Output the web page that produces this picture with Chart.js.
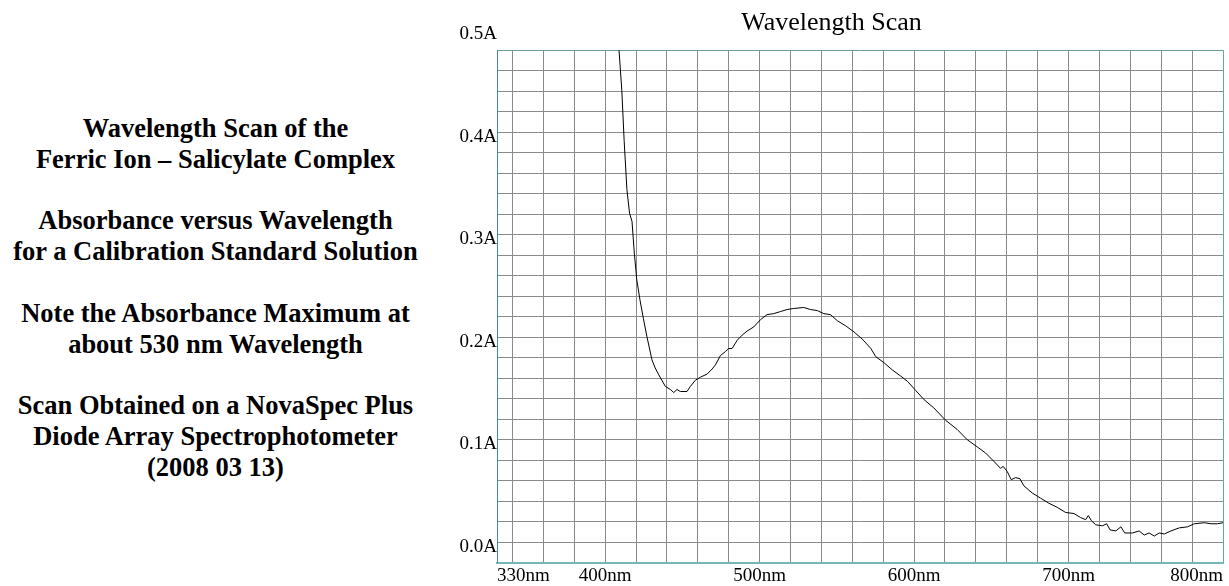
<!DOCTYPE html>
<html>
<head>
<meta charset="utf-8">
<script src="https://cdn.jsdelivr.net/npm/chart.js@4.4.1/dist/chart.umd.min.js"></script>
<style>
  html, body { margin: 0; padding: 0; background: #ffffff; }
  body { width: 1229px; height: 586px; position: relative; overflow: hidden; }
  #notes {
    position: absolute; left: 0; top: 113px; width: 431px;
    text-align: center; font-family: "Liberation Serif", "Times New Roman", serif;
    font-weight: bold; font-size: 26.5px; line-height: 30.8px; color: #000;
  }
  #wrap { position: absolute; left: 440px; top: 0; width: 789px; height: 586px; }
</style>
</head>
<body>
<div id="notes">
Wavelength Scan of the<br>Ferric Ion – Salicylate Complex<br><br>
Absorbance versus Wavelength<br>for a Calibration Standard Solution<br><br>
Note the Absorbance Maximum at<br>about 530 nm Wavelength<br><br>
Scan Obtained on a NovaSpec Plus<br>Diode Array Spectrophotometer<br>(2008 03 13)
</div>
<div id="wrap"><canvas id="c"></canvas></div>
<script>
// ---- data ----
const wavelengths = [406, 409, 410.8, 412.3, 414.1, 415.8, 417.4, 418.9, 420.5, 422.6, 424.8, 427, 430.3, 432.4, 434.5, 436.7, 439, 442.2, 444.4, 446.5, 448.7, 453, 455.2, 458.4, 461.7, 466, 469.3, 471.4, 474.6, 477.9, 480, 482.2, 485.5, 488.7, 491.9, 496.2, 500.5, 504.8, 509.1, 513.5, 517.8, 522.1, 528.6, 532.9, 537.3, 541.6, 545.9, 550.4, 555.8, 561.2, 566.6, 572, 575.2, 580.6, 586, 591.4, 595.7, 601.1, 606.5, 612.8, 620.4, 627.9, 634.4, 640.9, 646.3, 651.6, 656, 657.7, 660.3, 662.9, 665.7, 668.5, 671.1, 676.5, 681.9, 687.3, 692.7, 698.1, 703.5, 707.8, 711.1, 712.8, 714.8, 717.6, 721.9, 724.7, 726.9, 730.6, 733.9, 736.4, 741.4, 745.7, 749, 752.2, 755.5, 758.7, 762, 766.3, 771.7, 777.1, 781.4, 787.9, 792.2, 796.5, 800];
const absorbance = [0.58, 0.50, 0.461, 0.412, 0.364, 0.341, 0.333, 0.302, 0.276, 0.256, 0.238, 0.221, 0.198, 0.190, 0.184, 0.178, 0.172, 0.169, 0.166, 0.169, 0.167, 0.167, 0.172, 0.178, 0.181, 0.184, 0.189, 0.193, 0.202, 0.206, 0.209, 0.209, 0.217, 0.222, 0.226, 0.230, 0.237, 0.242, 0.243, 0.245, 0.247, 0.248, 0.249, 0.247, 0.246, 0.243, 0.242, 0.236, 0.231, 0.225, 0.218, 0.209, 0.201, 0.195, 0.188, 0.182, 0.177, 0.168, 0.159, 0.151, 0.139, 0.130, 0.120, 0.113, 0.107, 0.099, 0.092, 0.094, 0.089, 0.081, 0.083, 0.082, 0.075, 0.068, 0.063, 0.058, 0.054, 0.049, 0.048, 0.044, 0.042, 0.046, 0.041, 0.037, 0.036, 0.038, 0.032, 0.031, 0.035, 0.029, 0.029, 0.031, 0.027, 0.029, 0.026, 0.029, 0.028, 0.031, 0.034, 0.035, 0.038, 0.039, 0.038, 0.038, 0.039];

// ---- axis ticks ----
const xLabelValues = [330, 400, 500, 600, 700, 800];
const xGridValues = [330, 340, 360, 380, 400, 420, 440, 460, 480, 500, 520, 540, 560, 580, 600, 620, 640, 660, 680, 700, 720, 740, 760, 780, 800];
const yLabelValues = [0.0, 0.1, 0.2, 0.3, 0.4, 0.5];
const yGridValues = [0, 0.02, 0.04, 0.06, 0.08, 0.1, 0.12, 0.14, 0.16, 0.18, 0.2, 0.22, 0.24, 0.26, 0.28, 0.3, 0.32, 0.34, 0.36, 0.38, 0.4, 0.42, 0.44, 0.46, 0.48, 0.5];

const points = wavelengths.map((w, i) => ({ x: w, y: absorbance[i] }));
const FONT = '"Liberation Serif", "Times New Roman", serif';
const GRID = '#8a8a8a';

new Chart(document.getElementById('c'), {
  type: 'line',
  data: {
    datasets: [{
      data: points,
      borderColor: '#000000',
      borderWidth: 1,
      pointRadius: 0,
      tension: 0,
      fill: false
    }]
  },
  options: {
    responsive: true,
    maintainAspectRatio: false,
    animation: false,
    layout: { padding: { left: 0, right: 6, top: 0, bottom: 0 } },
    plugins: {
      legend: { display: false },
      tooltip: { enabled: false },
      title: {
        display: true,
        text: 'Wavelength Scan',
        color: '#000000',
        font: { family: FONT, size: 26, weight: 'normal' },
        padding: { top: 8, bottom: 11 }
      }
    },
    scales: {
      x: {
        type: 'linear',
        min: 330,
        max: 800,
        afterBuildTicks: (s) => { s.ticks = xGridValues.map(v => ({ value: v })); },
        afterFit: (s) => { s.height = 23.3; },
        grid: {
          drawTicks: false,
          lineWidth: 1,
          color: (ctx) => (ctx.tick && ctx.tick.value === 800) ? '#5fa8a5' : GRID
        },
        border: { color: '#72b8b6', width: 2 },
        ticks: {
          autoSkip: false,
          maxRotation: 0,
          align: 'inner',
          padding: 2,
          color: '#000000',
          font: { family: FONT, size: 19 },
          callback: (v) => xLabelValues.includes(v) ? v + 'nm' : ''
        }
      },
      y: {
        type: 'linear',
        min: 0,
        max: 0.5,
        afterBuildTicks: (s) => { s.ticks = yGridValues.map(v => ({ value: v })); },
        afterFit: (s) => { s.width = 57; },
        grid: {
          drawTicks: false,
          lineWidth: 1,
          color: (ctx) => (ctx.tick && Math.abs(ctx.tick.value - 0.5) < 1e-9) ? '#6e9c9a' : GRID
        },
        border: { color: '#3a8f8a', width: 1 },
        ticks: {
          autoSkip: false,
          padding: 0,
          labelOffset: -16,
          color: '#000000',
          font: { family: FONT, size: 19 },
          callback: (v) => yLabelValues.some(l => Math.abs(l - v) < 1e-9) ? v.toFixed(1) + 'A' : ''
        }
      }
    }
  }
});
</script>
</body>
</html>
